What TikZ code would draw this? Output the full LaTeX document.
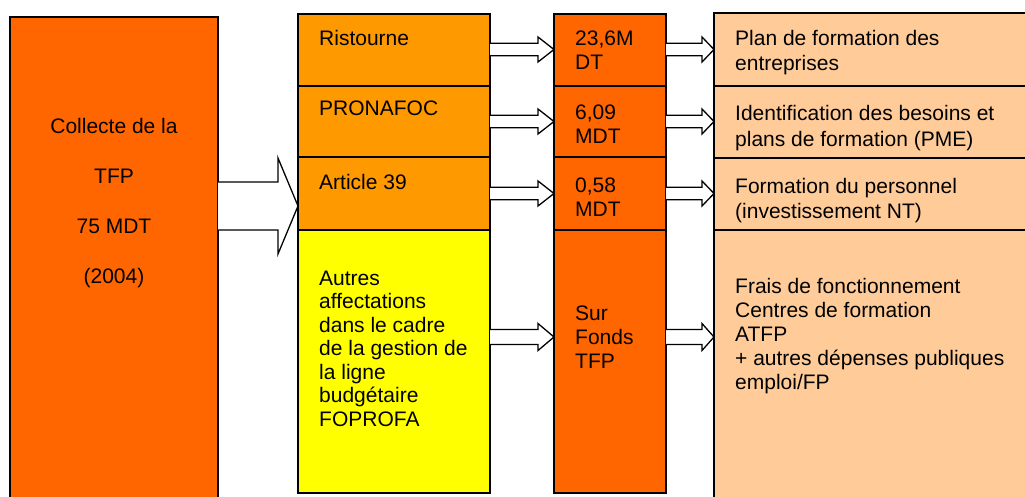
\documentclass[tikz,border=0pt]{standalone}
\usepackage{fontspec}
\setmainfont{Liberation Sans}
\usetikzlibrary{calc}
\definecolor{cRed}{HTML}{FF6600}
\definecolor{cOrange}{HTML}{FF9900}
\definecolor{cYellow}{HTML}{FFFF00}
\definecolor{cPeach}{HTML}{FFCC99}
\newcommand\blockarrow[6]{%
  \coordinate (by) at (0,#3);
  \path (#1.east |- by) coordinate (bs) (#2.west |- by) coordinate (bt);
  \draw[arrowline] ($(bs)+(0,#4)$) -- ($(bt)+(-#6,#4)$) -- ($(bt)+(-#6,#5)$) -- (bt)
    -- ($(bt)+(-#6,-#5)$) -- ($(bt)+(-#6,-#4)$) -- ($(bs)+(0,-#4)$);}
\tikzset{
  box/.style={draw=black, line width=1.5pt, outer sep=0pt, inner sep=0pt, anchor=north west},
  arrowline/.style={draw=black, fill=white, line width=1.3pt, line join=miter},
  tx/.style={anchor=north west, inner sep=0pt, align=left, font=\fontsize{21}{#1}\selectfont},
  tx/.default=24
}
\begin{document}
\begin{tikzpicture}[x=1pt,y=1pt]
\useasboundingbox (0,0) rectangle (1025,-497);
\clip (0,0) rectangle (1025,-497);
% left box
\node[box, fill=cRed, minimum width=208pt, minimum height=493pt] (L) at (10,-17) {};
% column 2
\node[box, fill=cOrange, minimum width=192pt, minimum height=72pt] (A1) at (298,-14) {};
\node[box, fill=cOrange, minimum width=192pt, minimum height=71pt] (A2) at (298,-86) {};
\node[box, fill=cOrange, minimum width=192pt, minimum height=73pt] (A3) at (298,-157) {};
\node[box, fill=cYellow, minimum width=192pt, minimum height=263pt] (A4) at (298,-230) {};
% column 3
\node[box, fill=cRed, minimum width=112pt, minimum height=72pt] (B1) at (554,-14) {};
\node[box, fill=cRed, minimum width=112pt, minimum height=71pt] (B2) at (554,-86) {};
\node[box, fill=cRed, minimum width=112pt, minimum height=73pt] (B3) at (554,-157) {};
\node[box, fill=cRed, minimum width=112pt, minimum height=263pt] (B4) at (554,-230) {};
% column 4
\node[box, fill=cPeach, minimum width=330pt, minimum height=73pt] (C1) at (714,-13) {};
\node[box, fill=cPeach, minimum width=330pt, minimum height=72pt] (C2) at (714,-86) {};
\node[box, fill=cPeach, minimum width=330pt, minimum height=72pt] (C3) at (714,-158) {};
\node[box, fill=cPeach, minimum width=330pt, minimum height=290pt] (C4) at (714,-230) {};
% texts
\node[anchor=north, inner sep=0pt, align=center, font=\fontsize{21}{50}\selectfont] (tL) at (114,-98)
  {\strut Collecte de la\\TFP\\75 MDT\\(2004)};
\node[tx] (tA1) at (319,-28.7) {\strut Ristourne};
\node[tx] (tA2) at (319,-98.7) {\strut PRONAFOC};
\node[tx] (tA3) at (319,-172.7) {\strut Article 39};
\node[tx=23.5] (tA4) at (319,-268.5) {\strut Autres\\affectations\\dans le cadre\\de la gestion de\\la ligne\\budgétaire\\FOPROFA};
\node[tx] (tB1) at (575,-28.7) {\strut 23,6M\\DT};
\node[tx] (tB2) at (575,-102.7) {\strut 6,09\\MDT};
\node[tx] (tB3) at (575,-175.7) {\strut 0,58\\MDT};
\node[tx] (tB4) at (575,-303.2) {\strut Sur\\Fonds\\TFP};
\node[tx=25] (tC1) at (735,-27.5) {\strut Plan de formation des\\entreprises};
\node[tx=25.5] (tC2) at (735,-102.7) {\strut Identification des besoins et\\plans de formation (PME)};
\node[tx=25.5] (tC3) at (735,-175) {\strut Formation du personnel\\(investissement NT)};
\node[tx] (tC4) at (735,-276.7) {\strut Frais de fonctionnement\\Centres de formation\\ATFP\\+ autres dépenses publiques\\emploi/FP};
% arrows
\blockarrow{L}{A3}{-206}{24}{48}{20}
\blockarrow{A1}{B1}{-49.5}{6.2}{12.5}{16}
\blockarrow{A2}{B2}{-121.5}{6.2}{12.5}{16}
\blockarrow{A3}{B3}{-193.5}{6.2}{12.5}{16}
\blockarrow{A4}{B4}{-337}{7.5}{13.5}{16}
\blockarrow{B1}{C1}{-49.5}{6.2}{12.5}{12}
\blockarrow{B2}{C2}{-121.5}{6.2}{12.5}{12}
\blockarrow{B3}{C3}{-193.5}{6.2}{12.5}{12}
\blockarrow{B4}{C4}{-337}{7.5}{13.5}{12}
\end{tikzpicture}
\end{document}
